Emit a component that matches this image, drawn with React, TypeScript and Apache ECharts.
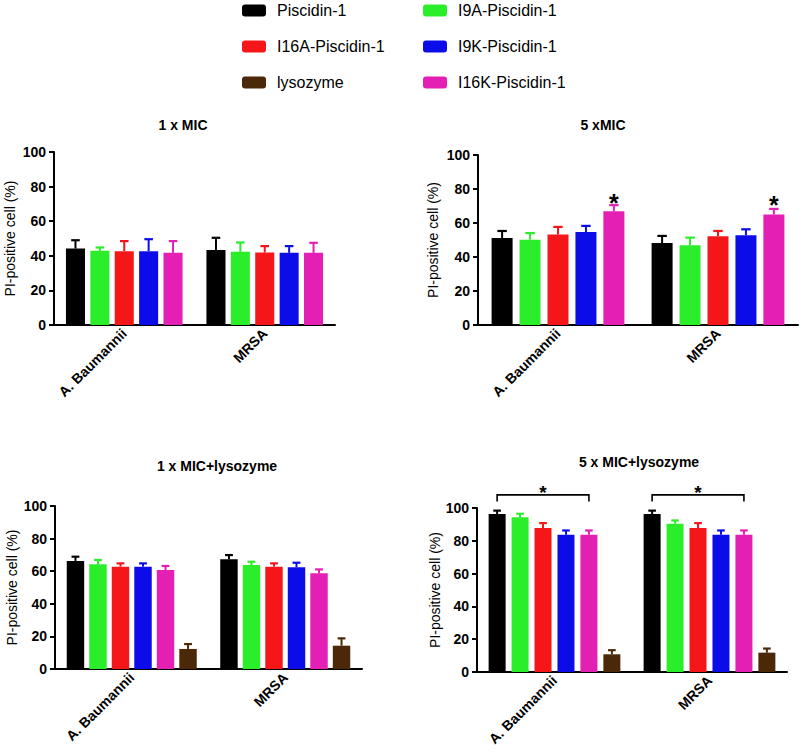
import React, { useEffect, useRef } from "react";
import * as echarts from "echarts";

// ---------- data ----------
const categories = ["A. Baumannii", "MRSA"];
const seriesNames = [
  "Piscidin-1",
  "I9A-Piscidin-1",
  "I16A-Piscidin-1",
  "I9K-Piscidin-1",
  "I16K-Piscidin-1",
  "lysozyme",
];
const seriesColors = ["#000000", "#2bee2b", "#f5161a", "#0c0ce8", "#e41fb4", "#4b2908"];
const yTicks = [0, 20, 40, 60, 80, 100];
const panelTitles = ["1 x MIC", "5 xMIC", "1 x MIC+lysozyme", "5 x MIC+lysozyme"];
const legendColumn1 = ["Piscidin-1", "I16A-Piscidin-1", "lysozyme"];
const legendColumn2 = ["I9A-Piscidin-1", "I9K-Piscidin-1", "I16K-Piscidin-1"];

// 1 x MIC (Piscidin-1, I9A, I16A, I9K, I16K)
const mic1MeanAB = [44.2, 42.9, 42.7, 42.7, 41.7];
const mic1ErrAB = [4.8, 1.9, 5.8, 6.9, 6.8];
const mic1MeanMRSA = [43.3, 42.3, 41.9, 41.7, 41.7];
const mic1ErrMRSA = [7.1, 5.4, 3.7, 3.9, 5.8];

// 5 x MIC
const mic5MeanAB = [51.2, 50.2, 53.3, 54.7, 66.9];
const mic5ErrAB = [4.1, 3.9, 4.4, 3.6, 3.6];
const mic5MeanMRSA = [48.2, 46.9, 52.2, 52.8, 65.0];
const mic5ErrMRSA = [4.2, 4.5, 3.1, 3.5, 3.3];
// significance stars above I16K-Piscidin-1 (category index, bar index, star value)
const mic5Stars = [
  [0, 4, 75.0],
  [1, 4, 73.8],
];

// 1 x MIC + lysozyme (Piscidin-1, I9A, I16A, I9K, I16K, lysozyme)
const mic1LysMeanAB = [66.3, 64.2, 62.8, 62.8, 60.7, 12.3];
const mic1LysErrAB = [2.6, 2.7, 2.0, 2.0, 2.5, 3.0];
const mic1LysMeanMRSA = [67.3, 63.8, 62.8, 62.4, 58.7, 14.3];
const mic1LysErrMRSA = [2.6, 2.0, 2.0, 2.8, 2.4, 4.5];

// 5 x MIC + lysozyme
const mic5LysMeanAB = [96.3, 94.3, 87.8, 83.7, 83.7, 10.8];
const mic5LysErrAB = [2.1, 2.2, 3.0, 2.6, 2.6, 2.5];
const mic5LysMeanMRSA = [96.3, 90.4, 87.8, 83.7, 83.7, 11.8];
const mic5LysErrMRSA = [2.1, 2.0, 3.0, 2.6, 2.6, 2.5];
// brackets: category, first bar, last bar, line value, leg-end value, star value
const mic5LysBrackets = [
  [0, 0, 4, 108, 104, 112],
  [1, 0, 4, 108, 104, 112],
];

const FONT = "'Liberation Sans', Arial, Helvetica, sans-serif";

type Panel = {
  title: string;
  meanAB: number[];
  errAB: number[];
  meanMRSA: number[];
  errMRSA: number[];
  grid: { left: number; top: number; width: number; height: number };
  catGap: number;
  barGap: number;
  nameGap: number;
  titleX: number;
  titleY: number;
  stars?: number[][];
  brackets?: number[][];
  starSize: number;
};

const panels: Panel[] = [
  {
    title: panelTitles[0],
    meanAB: mic1MeanAB, errAB: mic1ErrAB, meanMRSA: mic1MeanMRSA, errMRSA: mic1ErrMRSA,
    grid: { left: 54, top: 152, width: 281, height: 173 },
    catGap: 0.17, barGap: 0.28, nameGap: 37, titleX: 183, titleY: 125, starSize: 22,
  },
  {
    title: panelTitles[1],
    meanAB: mic5MeanAB, errAB: mic5ErrAB, meanMRSA: mic5MeanMRSA, errMRSA: mic5ErrMRSA,
    grid: { left: 478, top: 155, width: 320, height: 170 },
    catGap: 0.17, barGap: 0.33, nameGap: 38, titleX: 603, titleY: 125,
    stars: mic5Stars, starSize: 25,
  },
  {
    title: panelTitles[2],
    meanAB: mic1LysMeanAB, errAB: mic1LysErrAB, meanMRSA: mic1LysMeanMRSA, errMRSA: mic1LysErrMRSA,
    grid: { left: 55, top: 506, width: 307, height: 163 },
    catGap: 0.153, barGap: 0.29, nameGap: 36, titleX: 217, titleY: 466, starSize: 18,
  },
  {
    title: panelTitles[3],
    meanAB: mic5LysMeanAB, errAB: mic5LysErrAB, meanMRSA: mic5LysMeanMRSA, errMRSA: mic5LysErrMRSA,
    grid: { left: 477, top: 508, width: 310, height: 164 },
    catGap: 0.15, barGap: 0.35, nameGap: 35, titleX: 639, titleY: 462,
    brackets: mic5LysBrackets, starSize: 19,
  },
];

function barOffset(catW: number, n: number, catGap: number, barGap: number, idx: number) {
  const band = catW * (1 - catGap);
  const w = band / (n + (n - 1) * barGap);
  const sum = n * w + (n - 1) * w * barGap;
  return { off: -sum / 2 + idx * w * (1 + barGap) + w / 2, w };
}

function buildOption() {
  const grids: any[] = [];
  const xAxes: any[] = [];
  const yAxes: any[] = [];
  const series: any[] = [];
  const graphics: any[] = [];

  panels.forEach((p, gi) => {
    grids.push({ ...p.grid, containLabel: false, outerBoundsMode: "none" });
    xAxes.push({
      type: "category",
      gridIndex: gi,
      data: categories,
      axisLine: { lineStyle: { color: "#000", width: 2 } },
      axisTick: { alignWithLabel: true, length: 5, lineStyle: { color: "#000", width: 2 } },
      axisLabel: {
        rotate: 45, fontSize: 14, fontWeight: "bold", color: "#000", margin: 6, fontFamily: FONT,
      },
      splitLine: { show: false },
    });
    yAxes.push({
      type: "value",
      gridIndex: gi,
      min: 0,
      max: 100,
      interval: 20,
      name: "PI-positive cell (%)",
      nameLocation: "middle",
      nameGap: p.nameGap,
      nameTextStyle: { fontSize: 14, color: "#000", fontFamily: FONT },
      axisLine: { show: true, lineStyle: { color: "#000", width: 2 } },
      axisTick: { show: true, length: 5, lineStyle: { color: "#000", width: 2 } },
      axisLabel: {
        fontSize: 14, fontWeight: "bold", color: "#000", margin: 8, fontFamily: FONT,
        formatter: (v: number) => (yTicks.includes(v) ? String(v) : ""),
      },
      splitLine: { show: false },
    });

    const n = p.meanAB.length;
    for (let i = 0; i < n; i++) {
      series.push({
        type: "bar",
        name: seriesNames[i],
        xAxisIndex: gi,
        yAxisIndex: gi,
        data: [p.meanAB[i], p.meanMRSA[i]],
        itemStyle: { color: seriesColors[i] },
        barCategoryGap: (p.catGap * 100).toFixed(1) + "%",
        barGap: (p.barGap * 100).toFixed(1) + "%",
      });
    }

    // error bars
    const errData: number[][] = [];
    for (let i = 0; i < n; i++) {
      errData.push([0, p.meanAB[i], p.meanAB[i] + p.errAB[i], i]);
      errData.push([1, p.meanMRSA[i], p.meanMRSA[i] + p.errMRSA[i], i]);
    }
    series.push({
      type: "custom",
      name: "err" + gi,
      xAxisIndex: gi,
      yAxisIndex: gi,
      clip: false,
      silent: true,
      z: 3,
      encode: { x: 0, y: 2 },
      data: errData,
      renderItem: (params: any, api: any) => {
        const cat = api.value(0);
        const mean = api.value(1);
        const top = api.value(2);
        const idx = api.value(3);
        const catW = api.size([1, 0])[0];
        const { off, w } = barOffset(catW, n, p.catGap, p.barGap, idx);
        const p0 = api.coord([cat, mean]);
        const p1 = api.coord([cat, top]);
        const x = p0[0] + off;
        const color = seriesColors[idx];
        const cap = w * 0.45;
        return {
          type: "group",
          children: [
            { type: "line", shape: { x1: x, y1: p0[1], x2: x, y2: p1[1] }, style: { stroke: color, lineWidth: 2 } },
            { type: "line", shape: { x1: x - cap / 2, y1: p1[1], x2: x + cap / 2, y2: p1[1] }, style: { stroke: color, lineWidth: 2.2 } },
          ],
        };
      },
    });

    if (p.stars) {
      series.push({
        type: "custom",
        name: "stars" + gi,
        xAxisIndex: gi,
        yAxisIndex: gi,
        clip: false,
        silent: true,
        z: 4,
        encode: { x: 0, y: 2 },
        data: p.stars,
        renderItem: (params: any, api: any) => {
          const cat = api.value(0);
          const idx = api.value(1);
          const val = api.value(2);
          const catW = api.size([1, 0])[0];
          const { off } = barOffset(catW, n, p.catGap, p.barGap, idx);
          const c = api.coord([cat, val]);
          return {
            type: "text",
            x: c[0] + off,
            y: c[1] + p.starSize * 0.22,
            style: {
              text: "*", fontSize: p.starSize, fontWeight: "bold", fill: "#000",
              align: "center", verticalAlign: "middle", fontFamily: FONT,
            },
          };
        },
      });
    }

    if (p.brackets) {
      series.push({
        type: "custom",
        name: "brackets" + gi,
        xAxisIndex: gi,
        yAxisIndex: gi,
        clip: false,
        silent: true,
        z: 4,
        encode: { x: 0, y: 5 },
        data: p.brackets,
        renderItem: (params: any, api: any) => {
          const cat = api.value(0);
          const i0 = api.value(1);
          const i1 = api.value(2);
          const lineV = api.value(3);
          const legV = api.value(4);
          const starV = api.value(5);
          const catW = api.size([1, 0])[0];
          const a = barOffset(catW, n, p.catGap, p.barGap, i0).off;
          const b = barOffset(catW, n, p.catGap, p.barGap, i1).off;
          const cl = api.coord([cat, lineV]);
          const cg = api.coord([cat, legV]);
          const cs = api.coord([cat, starV]);
          const x0 = cl[0] + a;
          const x1 = cl[0] + b;
          return {
            type: "group",
            children: [
              {
                type: "polyline",
                shape: { points: [[x0, cg[1]], [x0, cl[1]], [x1, cl[1]], [x1, cg[1]]] },
                style: { stroke: "#000", lineWidth: 1.6, fill: null },
              },
              {
                type: "text",
                x: (x0 + x1) / 2,
                y: cs[1] + p.starSize * 0.22,
                style: {
                  text: "*", fontSize: p.starSize, fontWeight: "bold", fill: "#000",
                  align: "center", verticalAlign: "middle", fontFamily: FONT,
                },
              },
            ],
          };
        },
      });
    }

    graphics.push({
      type: "text",
      x: p.titleX,
      y: p.titleY,
      style: {
        text: p.title, fontSize: 14, fontWeight: "bold", fill: "#000",
        align: "center", verticalAlign: "middle", fontFamily: FONT,
      },
    });
  });

  const legendBase = {
    orient: "vertical",
    top: 2,
    padding: 0,
    itemWidth: 24,
    itemHeight: 12,
    itemGap: 19,
    icon: "roundRect",
    selectedMode: false,
    textStyle: { fontSize: 16, color: "#000", fontFamily: FONT, lineHeight: 17, padding: [0, 0, 0, 6] },
  };

  return {
    animation: false,
    backgroundColor: "#ffffff",
    textStyle: { fontFamily: FONT },
    legend: [
      { ...legendBase, left: 242, data: legendColumn1 },
      { ...legendBase, left: 423, data: legendColumn2 },
    ],
    grid: grids,
    xAxis: xAxes,
    yAxis: yAxes,
    series,
    graphic: graphics,
  };
}

export default function App() {
  const ref = useRef<HTMLDivElement>(null);
  useEffect(() => {
    if (!ref.current) return;
    const chart = echarts.init(ref.current, undefined, { renderer: "svg" });
    chart.setOption(buildOption() as any);
    return () => chart.dispose();
  }, []);
  return (
    <div
      ref={ref}
      style={{ position: "absolute", left: 0, top: 0, width: 803, height: 756, background: "#fff" }}
    />
  );
}
